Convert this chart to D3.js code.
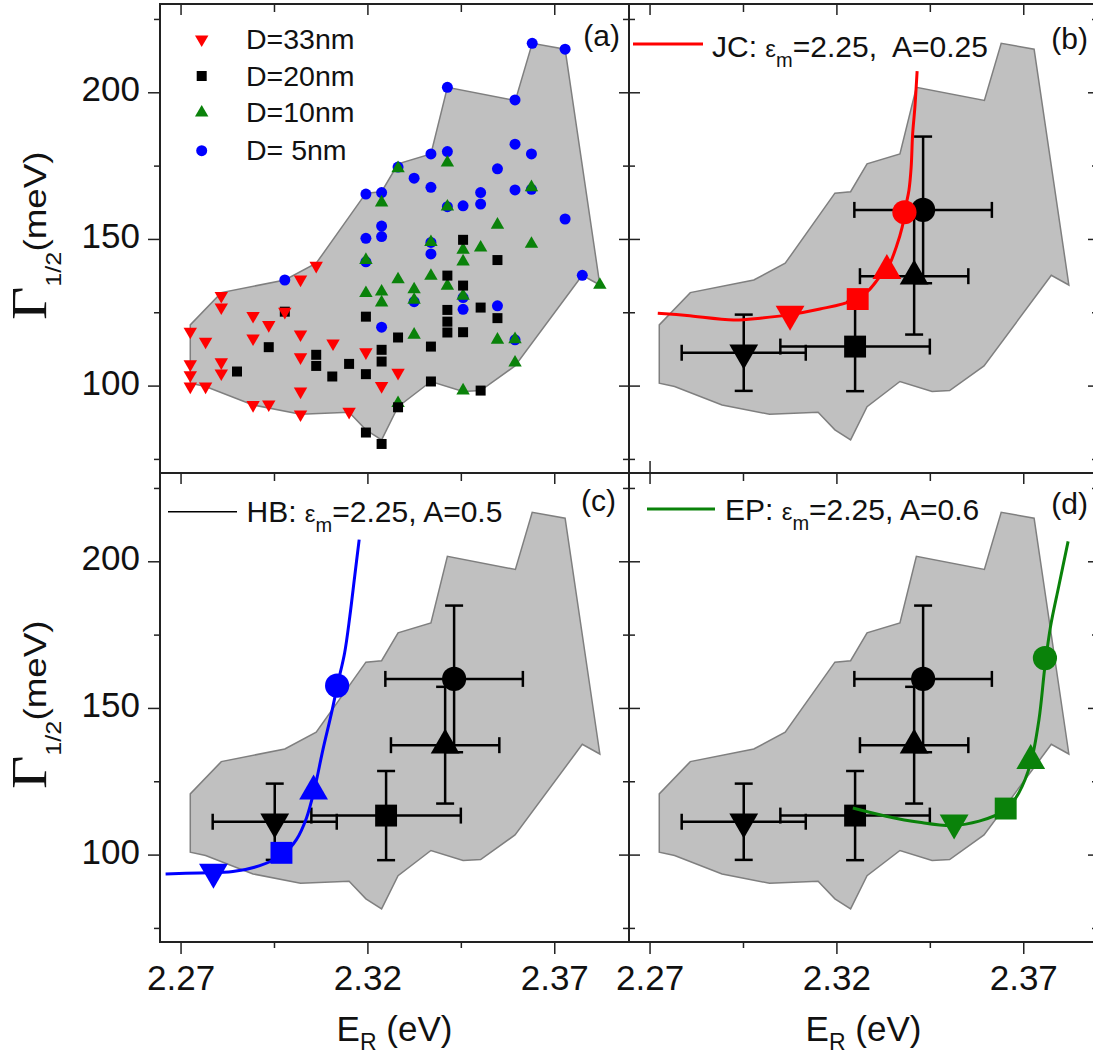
<!DOCTYPE html>
<html><head><meta charset="utf-8">
<script src="https://cdn.jsdelivr.net/npm/d3@7"></script>
<style>body{margin:0;background:#fff} svg{display:block} text{font-family:"Liberation Sans",Arial,sans-serif;fill:#111}</style>
</head><body>
<svg id="c" width="1093" height="1058"></svg>
<script>
// ---------- axes ----------
const xDomain = [2.2645, 2.390];
const yDomain = [70.2, 230.1];
const xMajor = [2.27, 2.32, 2.37];
const xMinor = [2.295, 2.345];
const yMajor = [100, 150, 200];
const yMinor = [75, 125, 175, 225];

// ---------- grey envelope (same in all panels) ----------
const hullE = [2.2726, 2.2726, 2.2767, 2.2894, 2.3021, 2.3151, 2.3196, 2.3238, 2.3282, 2.3370, 2.3456, 2.3503, 2.3595, 2.3775, 2.3822, 2.3729, 2.3641, 2.3596, 2.3414, 2.3370, 2.3282, 2.3238, 2.3196, 2.3063, 2.2979, 2.2809];
const hullG = [120.7, 100.8, 99.7, 93.4, 90.2, 90.9, 84.9, 81.5, 92.8, 101.4, 98.0, 98.3, 106.7, 137.6, 134.3, 214.7, 216.7, 197.2, 201.7, 179.0, 175.6, 166.1, 165.6, 141.7, 136.0, 131.7];

// ---------- panel (a) single-particle data [E_R (eV), Gamma (meV)] ----------
const d33 = [[2.2726,118.4],[2.2767,115.0],[2.2726,107.3],[2.2726,103.6],[2.2726,99.7],[2.2767,99.7],[2.2809,130.6],[2.2809,126.7],[2.2809,108.0],[2.2809,104.2],[2.2894,123.8],[2.2894,116.1],[2.2936,120.7],[2.2894,93.4],[2.2936,93.6],[2.2979,125.2],[2.3021,136.2],[2.3063,140.9],[2.3021,117.5],[2.3021,109.7],[2.3021,98.0],[2.3021,90.2],[2.3108,114.4],[2.3151,91.1],[2.3196,111.4],[2.3238,99.9],[2.3282,104.4]];
const d20 = [[2.2851,104.8],[2.2936,113.1],[2.2979,125.2],[2.3063,110.5],[2.3063,106.7],[2.3106,103.1],[2.3151,107.4],[2.3196,103.9],[2.3196,123.5],[2.3238,112.2],[2.3238,108.2],[2.3282,116.4],[2.3282,92.6],[2.3196,84.0],[2.3238,80.1],[2.3370,113.3],[2.3370,101.4],[2.3414,137.5],[2.3414,125.8],[2.3414,121.8],[2.3414,118.1],[2.3456,149.7],[2.3456,134.1],[2.3456,118.2],[2.3503,126.6],[2.3548,142.8],[2.3548,123.0],[2.3503,98.3]];
const d10 = [[2.3282,174.1],[2.3238,162.4],[2.3414,176.0],[2.3414,161.0],[2.3639,167.6],[2.3196,142.8],[2.3370,148.9],[2.3548,154.8],[2.3639,148.3],[2.3456,146.3],[2.3456,142.3],[2.3503,147.0],[2.3282,136.2],[2.3370,137.4],[2.3414,134.0],[2.3196,131.5],[2.3238,132.0],[2.3238,128.3],[2.3325,132.8],[2.3325,129.2],[2.3456,130.6],[2.3325,117.3],[2.3548,115.6],[2.3595,115.8],[2.3595,107.8],[2.3456,98.3],[2.3822,134.3],[2.3282,94.0]];
const d5 = [[2.3641,216.7],[2.3729,214.7],[2.3414,201.7],[2.3595,197.4],[2.3595,182.3],[2.3639,179.0],[2.3370,179.0],[2.3414,179.8],[2.3548,173.9],[2.3325,170.7],[2.3370,167.6],[2.3595,166.7],[2.3196,165.3],[2.3238,165.8],[2.3503,165.8],[2.3503,161.9],[2.3456,161.3],[2.3414,161.0],[2.3238,154.4],[2.3238,150.8],[2.3196,150.2],[2.3196,142.2],[2.3370,148.8],[2.3370,144.9],[2.3729,156.8],[2.3775,137.6],[2.3325,128.6],[2.3456,130.0],[2.3456,126.0],[2.3548,127.2],[2.3238,119.9],[2.3595,115.6],[2.2979,136.0],[2.3639,166.9],[2.3282,174.5]];
const legendA = ["D=33nm", "D=20nm", "D=10nm", "D= 5nm"];

// ---------- averages with error bars (33, 20, 10, 5 nm) ----------
const meanE = [2.2952, 2.3250, 2.3408, 2.3432];
const meanG = [111.2, 113.3, 137.3, 159.9];
const errE = [0.0166, 0.0200, 0.0145, 0.0184];
const errG = [13.0, 15.2, 19.9, 25.0];

// ---------- model curves ----------
const jcE = [2.2722,2.2800,2.2925,2.2996,2.3076,2.3156,2.3244,2.3284,2.3315,2.3338,2.3360,2.3376,2.3385,2.3394,2.3400,2.3404,2.3410,2.3416];
const jcG = [124.7,123.9,122.4,123.0,124.2,126.1,129.0,132.2,136.9,140.3,147.2,154.0,160.8,166.5,174.4,185.8,194.9,207.2];
const jcPtE = [2.3076, 2.3257, 2.3335, 2.3382];
const jcPtG = [124.4, 129.5, 139.2, 159.1];

const hbE = [2.2660,2.2751,2.2840,2.2912,2.2974,2.3010,2.3037,2.3059,2.3081,2.3104,2.3121,2.3139,2.3153,2.3166,2.3178];
const hbG = [93.4,93.75,94.2,96.25,100.0,105.1,112.5,122.7,135.8,148.3,158.5,168.75,181.25,194.9,207.4];
const hbPtE = [2.2788, 2.2970, 2.3056, 2.3119];
const hbPtG = [94.0, 100.6, 121.6, 157.6];

const epE = [2.3244,2.3333,2.3422,2.3511,2.3582,2.3653,2.3688,2.3720,2.3742,2.3758,2.3773,2.3795,2.3820];
const epG = [115.9,113.1,111.0,109.9,111.4,115.3,121.0,131.25,146.0,164.2,177.8,191.5,206.8];
const epPtE = [2.3515, 2.3653, 2.3720, 2.3758];
const epPtG = [110.8, 115.7, 132.0, 167.0];

// ---------- drawing ----------
const RED = "#ff0000", BLUE = "#0000ff", GREEN = "#0a820a", BLACK = "#000";
const svg = d3.select("#c");
const W = 469, H = 469;
const panels = [
  {id:"(a)", x:160, y:4,   left:true,  bottom:false, lx:620,  ly:45.5},
  {id:"(b)", x:629, y:4,   left:false, bottom:false, lx:1088, ly:49},
  {id:"(c)", x:160, y:473, left:true,  bottom:true,  lx:616,  ly:511},
  {id:"(d)", x:629, y:473, left:false, bottom:true,  lx:1088, ly:514}
];
function sym(kind, size){
  const t = kind==="sq"?d3.symbolSquare: kind==="ci"?d3.symbolCircle: d3.symbolTriangle;
  return d3.symbol().type(t).size(size)();
}
function marker(g, kind, cx, cy, size, fill){
  g.append("path").attr("d", sym(kind,size))
   .attr("transform", `translate(${cx},${cy})` + (kind==="dn"?" rotate(180)":""))
   .attr("fill", fill);
}
const kinds = ["dn","sq","up","ci"];

panels.forEach((p, pi) => {
  const xs = d3.scaleLinear().domain(xDomain).range([p.x, p.x+W]);
  const ys = d3.scaleLinear().domain(yDomain).range([p.y+H, p.y]);
  const g = svg.append("g");

  // envelope
  g.append("path")
    .attr("d", d3.line().x((d,i)=>xs(hullE[i])).y((d,i)=>ys(hullG[i])).curve(d3.curveLinearClosed)(hullE))
    .attr("fill", "#c0c0c0").attr("stroke", "#7f7f7f").attr("stroke-width", 1.5);

  if (pi === 0) {
    const sets = [[d5,"ci",BLUE,95],[d10,"up",GREEN,78],[d20,"sq",BLACK,100],[d33,"dn",RED,78]];
    sets.forEach(([arr,k,c,s]) => arr.forEach(d => marker(g, k, xs(d[0]), ys(d[1]), s, c)));
    // legend
    const lk = [["dn",RED,78],["sq",BLACK,100],["up",GREEN,78],["ci",BLUE,95]];
    const rowY = [39.3, 76, 112.7, 150.7];
    lk.forEach((l,i) => {
      marker(g, l[0], 201.7, rowY[i], l[2], l[1]);
      g.append("text").attr("x", 246).attr("y", rowY[i]+9.5).attr("font-size", 28.5)
        .style("white-space","pre").text(legendA[i]);
    });
  } else {
    // averages with error bars
    const eb = g.append("g").attr("stroke", BLACK).attr("stroke-width", 2.5).attr("fill","none");
    meanE.forEach((e,i) => {
      const cx = xs(e), cy = ys(meanG[i]);
      const x1 = xs(e-errE[i]), x2 = xs(e+errE[i]);
      const y1 = ys(meanG[i]-errG[i]), y2 = ys(meanG[i]+errG[i]);
      eb.append("line").attr("x1",x1).attr("x2",x2).attr("y1",cy).attr("y2",cy);
      eb.append("line").attr("x1",cx).attr("x2",cx).attr("y1",y1).attr("y2",y2);
      eb.append("line").attr("x1",x1).attr("x2",x1).attr("y1",cy-8).attr("y2",cy+8);
      eb.append("line").attr("x1",x2).attr("x2",x2).attr("y1",cy-8).attr("y2",cy+8);
      eb.append("line").attr("x1",cx-9).attr("x2",cx+9).attr("y1",y1).attr("y2",y1);
      eb.append("line").attr("x1",cx-9).attr("x2",cx+9).attr("y1",y2).attr("y2",y2);
    });
    const bigSize = {dn:360, sq:480, up:360, ci:460};
    meanE.forEach((e,i) => marker(g, kinds[i], xs(e), ys(meanG[i]), bigSize[kinds[i]], BLACK));

    const model = pi===1 ? [jcE,jcG,jcPtE,jcPtG,RED] : pi===2 ? [hbE,hbG,hbPtE,hbPtG,BLUE] : [epE,epG,epPtE,epPtG,GREEN];
    const [cE,cG,mE,mG,col] = model;
    g.append("path")
      .attr("d", d3.line().x((d,i)=>xs(cE[i])).y((d,i)=>ys(cG[i])).curve(d3.curveCatmullRom.alpha(0.5))(cE))
      .attr("fill","none").attr("stroke", col).attr("stroke-width", 3);
    mE.forEach((e,i) => marker(g, kinds[i], xs(e), ys(mG[i]), bigSize[kinds[i]], col));

    // legend
    const L = pi===1 ? {x1:633,x2:703,ly:44,tx:712,ty:56.7,lab:"JC: ",rest:"=2.25,  A=0.25",col:RED,w:3}
            : pi===2 ? {x1:168,x2:237,ly:511.7,tx:246.5,ty:521.7,lab:"HB: ",rest:"=2.25, A=0.5",col:BLACK,w:1.5}
            : {x1:647,x2:715,ly:509,tx:725,ty:520,lab:"EP: ",rest:"=2.25, A=0.6",col:GREEN,w:3};
    g.append("line").attr("x1",L.x1).attr("x2",L.x2).attr("y1",L.ly).attr("y2",L.ly)
      .attr("stroke",L.col).attr("stroke-width",L.w);
    const t = g.append("text").attr("x",L.tx).attr("y",L.ty).attr("font-size",30).style("white-space","pre");
    t.append("tspan").text(L.lab);
    t.append("tspan").attr("font-size",24).text("ε");
    t.append("tspan").attr("font-size",20).attr("dy",10).text("m");
    t.append("tspan").attr("dy",-10).text(L.rest);
  }

  // axes
  const tick = sel => { sel.select(".domain").remove(); sel.selectAll("line").attr("stroke","#222").attr("stroke-width",1.5); };
  const noLab = a => a.tickFormat("").tickSizeOuter(0);
  if (p.left) {
    const ga = g.append("g").attr("transform",`translate(${p.x},0)`)
      .call(d3.axisLeft(ys).tickValues(yMajor).tickSize(12).tickSizeOuter(0).tickPadding(8).tickFormat(d3.format("d")));
    tick(ga);
    ga.selectAll("text").attr("font-size",35).attr("font-family",null).attr("dy","0.24em").attr("fill","#111");
    tick(g.append("g").attr("transform",`translate(${p.x},0)`).call(noLab(d3.axisLeft(ys).tickValues(yMinor).tickSize(6))));
  } else {
    tick(g.append("g").attr("transform",`translate(${p.x},0)`).call(noLab(d3.axisLeft(ys).tickValues(yMajor).tickSize(-11))));
    tick(g.append("g").attr("transform",`translate(${p.x},0)`).call(noLab(d3.axisLeft(ys).tickValues(yMinor).tickSize(-6))));
  }
  tick(g.append("g").attr("transform",`translate(${p.x+W},0)`).call(noLab(d3.axisRight(ys).tickValues(yMajor).tickSize(-10))));
  tick(g.append("g").attr("transform",`translate(${p.x+W},0)`).call(noLab(d3.axisRight(ys).tickValues(yMinor).tickSize(-6))));
  tick(g.append("g").attr("transform",`translate(0,${p.y})`).call(noLab(d3.axisTop(xs).tickValues(xMajor).tickSize(-11))));
  tick(g.append("g").attr("transform",`translate(0,${p.y})`).call(noLab(d3.axisTop(xs).tickValues(xMinor).tickSize(-8))));
  if (p.bottom) {
    const gb = g.append("g").attr("transform",`translate(0,${p.y+H})`)
      .call(d3.axisBottom(xs).tickValues(xMajor).tickSize(12).tickSizeOuter(0).tickFormat(d3.format(".2f")));
    tick(gb);
    gb.selectAll("text").attr("font-size",35).attr("font-family",null).attr("y",48).attr("dy",0).attr("fill","#111");
    tick(g.append("g").attr("transform",`translate(0,${p.y+H})`).call(noLab(d3.axisBottom(xs).tickValues(xMinor).tickSize(6))));
  } else if (!p.left) {
    tick(g.append("g").attr("transform",`translate(0,${p.y+H})`).call(noLab(d3.axisBottom(xs).tickValues([xMajor[0]]).tickSize(-12))));
  }

  // frame
  g.append("rect").attr("x",p.x).attr("y",p.y).attr("width",W).attr("height",H)
    .attr("fill","none").attr("stroke","#222").attr("stroke-width",2);

  // panel label
  g.append("text").attr("x",p.lx).attr("y",p.ly).attr("text-anchor","end").attr("font-size",30).text(p.id);

  // axis titles
  if (p.left) {
    const yt = g.append("text").attr("transform",`translate(46,${p.y+316}) rotate(-90) scale(1.15,1)`);
    yt.append("tspan").attr("font-family","'Liberation Serif','Times New Roman',serif").attr("font-size",50).text("Γ");
    yt.append("tspan").attr("font-size",22).attr("dy",15).text("1/2");
    yt.append("tspan").attr("font-size",32).attr("dy",-15).text("(meV)");
  }
  if (p.bottom) {
    const xt = g.append("text").attr("x",p.x+W/2).attr("y",1041).attr("text-anchor","middle").style("white-space","pre");
    xt.append("tspan").attr("font-size",35).text("E");
    xt.append("tspan").attr("font-size",23).attr("dy",9).text("R");
    xt.append("tspan").attr("font-size",35).attr("dy",-9).text(" (eV)");
  }
});
</script>
</body></html>
